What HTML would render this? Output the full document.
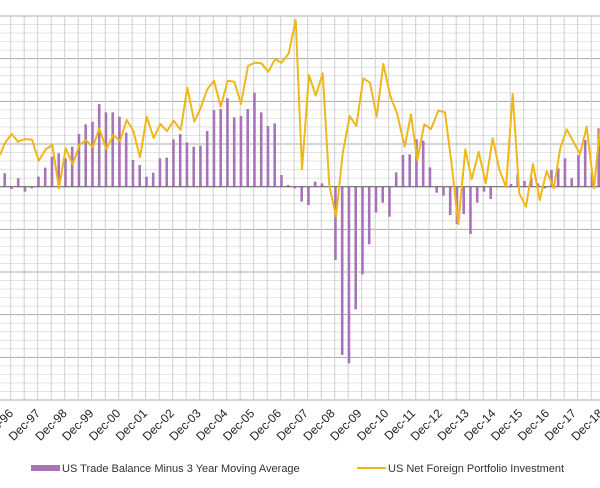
<!DOCTYPE html>
<html><head><meta charset="utf-8"><style>
html,body{margin:0;padding:0;background:#fff;}
svg{display:block;font-family:"Liberation Sans",Arial,sans-serif;}
</style></head><body>
<svg id="c" width="600" height="488" xmlns="http://www.w3.org/2000/svg">
<g id="grid"></g><g id="bars"></g><line x1="0" x2="600" y1="186.7" y2="186.7" stroke="#666" stroke-width="1"/>
<polyline id="ln" fill="none" stroke="#f0b71b" stroke-width="2" stroke-linejoin="round"/>
<g id="lab" font-size="12" fill="#222"></g>
<rect x="31" y="465" width="29" height="6" fill="#a874b8"/>
<text x="62" y="472" font-size="11" fill="#333">US Trade Balance Minus 3 Year Moving Average</text>
<line x1="357" x2="386" y1="468" y2="468" stroke="#f0b71b" stroke-width="2"/>
<text x="388" y="472" font-size="11" fill="#333">US Net Foreign Portfolio Investment</text>
</svg>
<script>
var NS="http://www.w3.org/2000/svg";
function el(p,t,a){var e=document.createElementNS(NS,t);for(var k in a)e.setAttribute(k,a[k]);p.appendChild(e);return e;}
var g=document.getElementById("grid");
for(var k=0;k<=45;k++){var y=16+k*384/45;el(g,"line",{x1:0,x2:600,y1:y,y2:y,stroke:k%5==0?"#aaa":"#e2e2e2","stroke-width":1});}
for(var x=10.7;x<600;x+=13.5){el(g,"line",{x1:x,x2:x,y1:16,y2:400,stroke:"#cfcfcf","stroke-width":1});}
var zy=[490,537,505,545,535,500,473,440,430,445,410,372,343,335,282,307,307,320,368,450,465,500,488,445,443,388,372,397,410,407,363,300,297,265,322,318,297,248,307,348,340,495,525,535,575,585,515,520,530,750,1035,1060,898,793,703,608,578,620,487,435,433,388,392,472,548,557,615,642,612,672,578,545,567,530,530,522,490,513,502,520,535,480,475,445,505,435,390,487,355];
var b=document.getElementById("bars");
zy.forEach(function(v,i){var x=4.7+6.75*i,y=10+v/3,z=186.7;el(b,"rect",{x:x-1.3,y:Math.min(y,z),width:2.6,height:Math.abs(y-z)||0.5,fill:"#a874b8"});});
var pts=[[0,155],[4.7,143.3],[11.7,134],[18,141.7],[25,139],[32,139.7],[38.7,160.7],[45.7,149.3],[52.3,145],[59,188.3],[65.7,148.3],[72.7,164.3],[79.3,145],[86,140],[92.7,147.3],[99.3,128.3],[106.3,149.3],[113.3,135],[120,141],[126.7,120],[133.3,130.7],[140,157.3],[146.7,116.7],[153.7,138],[160.3,124],[167,131],[173.7,120.7],[180.7,130],[187.3,87.7],[194.3,121.7],[200.5,108.3],[207.3,89.3],[214,80.7],[220.7,106.7],[227.7,80.7],[234.3,81.7],[241,104],[248,66],[254.7,62.7],[261.3,63.3],[268.3,71.7],[275,59.3],[281.7,62.7],[288.7,53.3],[295.7,20],[302,169.3],[309,75],[315.7,95.7],[322.7,73.3],[329.3,185],[336,216.7],[342.7,153.3],[349.7,116],[356.3,126],[363.3,78.3],[370,82.7],[376.7,116.7],[383.3,64],[390.3,96],[397,113.3],[404.7,146.7],[411,114.3],[417.3,160],[424.3,124.3],[431,129],[438.3,110.7],[445,112.3],[451.7,165],[458.3,224.3],[465.3,149.3],[471.7,179.3],[478.7,151.7],[485.7,183.3],[492.7,138.3],[499.3,169.3],[506,187.3],[512.7,94],[519.3,193.3],[526,206.7],[533,164],[539.7,200],[546.7,171],[553.7,188.3],[560.3,148.3],[566.7,129.3],[580,154],[586.7,126.7],[594,188.3],[600,128.3]];
document.getElementById("ln").setAttribute("points",pts.map(function(p){return p.join(",")}).join(" "));
var L=document.getElementById("lab");
for(var k=0;k<=22;k++){var yr=(96+k)%100;var s="Dec-"+(yr<10?"0":"")+yr;var x=14+26.8*k;var t=el(L,"text",{x:x,y:414,"text-anchor":"end",transform:"rotate(-45 "+x+" 414)"});t.textContent=s;}
</script>
</body></html>
